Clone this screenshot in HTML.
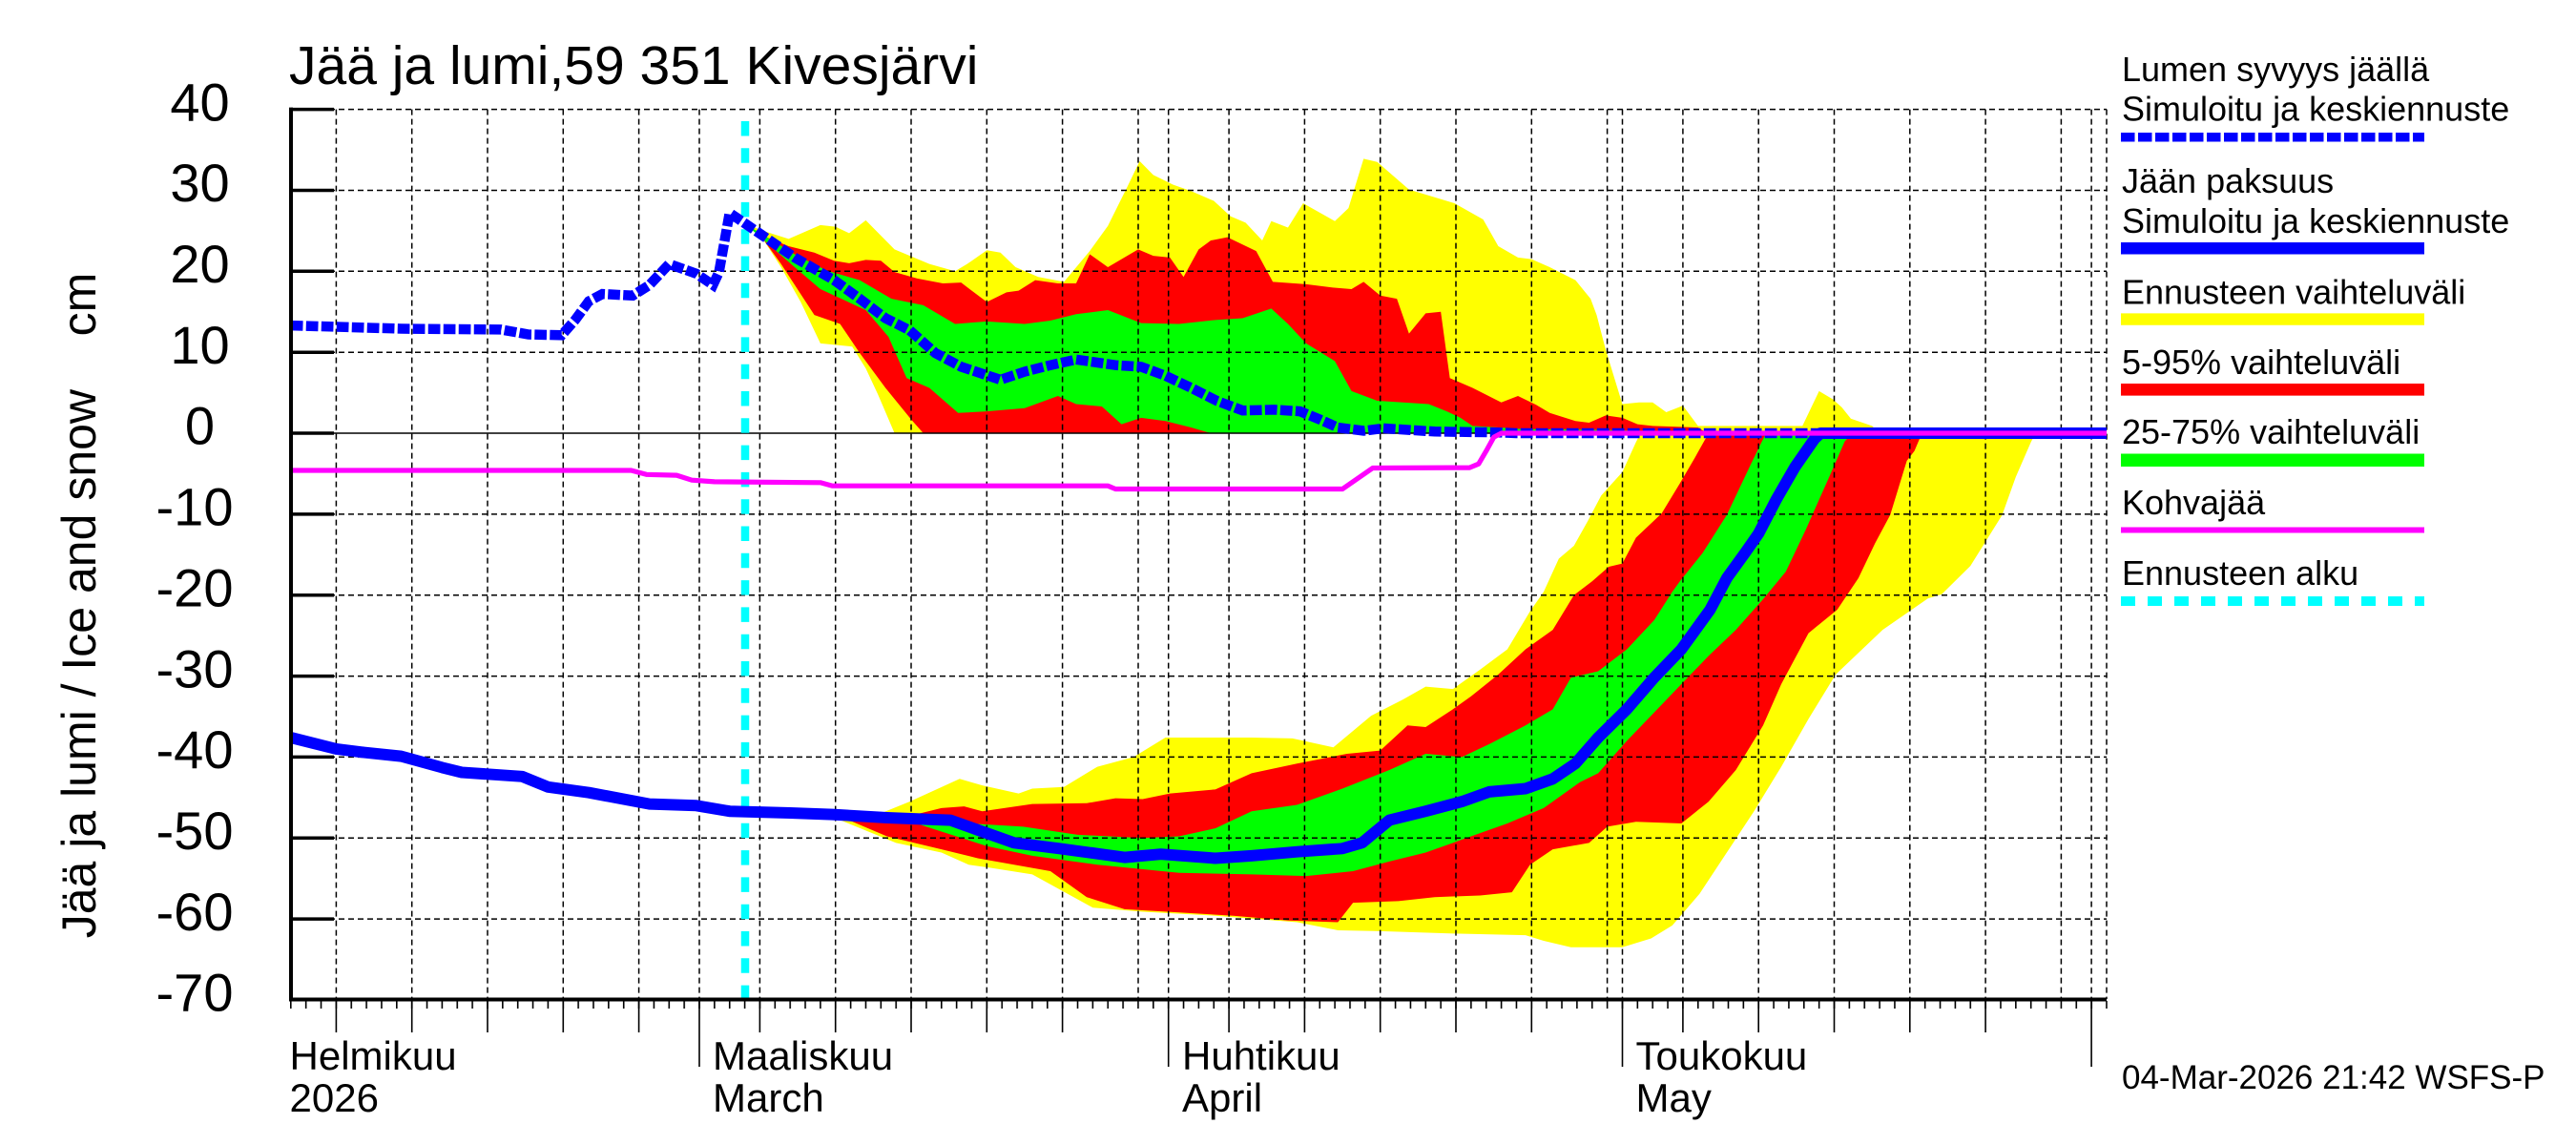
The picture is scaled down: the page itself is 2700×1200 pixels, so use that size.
<!DOCTYPE html>
<html>
<head>
<meta charset="utf-8">
<style>
html,body{margin:0;padding:0;background:#fff;overflow:hidden;}
svg{display:block;}
text{font-family:"Liberation Sans",Arial,sans-serif;fill:#000;}
</style>
</head>
<body>
<svg width="2700" height="1200" viewBox="0 0 2700 1200" xmlns="http://www.w3.org/2000/svg">
<defs>
<pattern id="mt" x="304" y="1049" width="15.86" height="9" patternUnits="userSpaceOnUse">
<rect x="0" y="0" width="1.6" height="9" fill="#000"/>
</pattern>
</defs>
<rect x="0" y="0" width="2700" height="1200" fill="#fff"/>

<!-- bands (data coords: x=day from Mar 1, y=cm) -->
<g transform="matrix(15.86 0 0 -8.485 733 454)">
<polygon fill="#ffff00" points="3,25.9 4.2,25 5.9,24 8,25.7 9,25.5 9.9,24.7 11,26.3 12.9,22.7 15.2,20.9 16.9,20 17.7,20.9 19,22.6 19.9,22.3 20.9,20.5 22.4,19.3 24.1,18.7 25.8,22.5 27,25.6 28.3,30.5 29.1,33.6 30,31.9 31.3,30.7 32.5,29.9 34,28.7 35.1,26.8 36.1,26 37.2,23.8 37.8,26.2 38.9,25.4 39.9,28.4 42,26.2 42.9,27.8 43.9,33.9 44.8,33.5 46.9,30.1 49.9,28.4 51.8,26.4 52.8,23.1 54.1,21.7 55,21.5 56.2,20.5 57.9,18.9 58.9,16.6 59.3,14.6 59.9,10.3 61,3.6 62.1,3.8 63,3.8 63.9,2.6 65,3.4 66,0.9 72.9,0.9 74,5.2 74.9,4.2 75.5,3.2 76.1,1.8 77.5,0.9 78,0 12.9,0 11.8,4.8 11,8 10.1,10.7 8,11.1 6.7,16.2 5.4,20.5 4.2,24"/>
<polygon fill="#ffff00" points="3,-46.8 8.8,-47 11.8,-47.1 13.9,-45.5 17.2,-42.7 18.7,-43.5 21.1,-44.5 22,-43.9 24.1,-43.7 26.3,-41.2 28.7,-40 30.8,-37.6 36.5,-37.6 39.2,-37.7 41.9,-38.8 44.4,-34.9 46.5,-32.9 48,-31.3 49.8,-31.6 51.6,-29.2 53.4,-26.7 54.9,-22 55.8,-19.6 56.8,-15.5 57.8,-13.9 58.7,-10.9 59.6,-7.7 61,-4.8 61.9,-1.1 62.2,0 88.3,0 88,-1.1 87,-5.4 86.1,-10.1 85.2,-12.8 84,-16.4 82.1,-19.9 81.2,-20.4 78.2,-24.3 75.1,-29.8 73.3,-35.3 71.5,-41.2 69.7,-46.7 67.9,-51.8 66.1,-56.9 64.3,-60.8 62.9,-62.4 61,-63.5 57.6,-63.5 55.8,-62.7 54.6,-62 49.8,-61.8 45,-61.5 42.2,-61.4 39.5,-60.4 34.1,-59.6 29.3,-59.1 26,-58.6 22,-54.5 19.3,-53.7 17.8,-53.3 16,-51.8 13,-50.6 8.8,-47.4"/>
<polygon fill="#ff0000" points="3,25.9 4.2,24.4 5.9,23.1 7.6,22.3 8.9,21.3 9.9,21 11,21.4 12,21.3 12.9,19.9 14.4,19.1 16.1,18.5 17.3,18.6 19,16.2 20.3,17.4 21.1,17.6 22.2,18.9 23.7,18.5 24.9,18.5 25.8,22.1 27,20.5 29,22.7 30,21.9 31.1,21.7 32,19.3 33,22.7 33.8,23.8 34.9,24.2 36.8,22.5 37.9,18.7 40.1,18.4 41.8,18 43.1,17.8 43.9,18.7 45,17 46.1,16.6 46.9,12.3 48,14.8 49,15 49.6,6.8 51.1,5.6 53,3.8 54.1,4.6 55.3,3.5 56.2,2.5 57.9,1.5 58.8,1.3 59.9,2.2 61,1.9 62,1.1 63,0.9 66,0.7 66.6,0 14.8,0 14,1.7 12.3,5.6 10.6,9.9 9.3,13.5 7.6,14.6 5.4,20.9 4.2,24"/>
<polygon fill="#ff0000" points="3,-46.8 11,-47.2 14.5,-47 16,-46.3 17.5,-46.1 18.7,-46.7 22,-45.8 25.6,-45.7 27.5,-45.1 29.3,-45.2 31.1,-44.5 34.1,-44 36.5,-42 39.5,-40.8 42.8,-39.6 45,-39.2 46.8,-36.1 48,-36.3 49.8,-34.1 51,-32.5 52.8,-29.8 54.6,-26.7 56.4,-24.3 57.8,-20 59,-18.3 60.1,-16.5 61,-16.1 61.9,-12.9 63.6,-9.9 64.8,-6.2 65.8,-3 66.7,0 80.8,0 80.3,-2.2 79.8,-3.4 78.7,-10.1 77.7,-13.6 76.6,-17.9 75.2,-21.8 73.3,-24.7 71.5,-31 70.3,-36.1 68.5,-41.6 66.7,-45.5 64.9,-48.2 61.9,-48 60,-48.6 58.8,-50.6 56.4,-51.4 54.9,-53.3 53.7,-56.7 51.6,-57.1 48.6,-57.3 46.2,-57.8 43.2,-58 42.2,-60.4 38.9,-60.2 35.3,-59.6 31.7,-59.2 28.1,-58.8 25.6,-57.3 23.2,-54.1 20.8,-53.3 18.4,-52.5 16,-51.4 12.4,-49.8 9.5,-47.5"/>
<polygon fill="#00ff00" points="3,25.9 6.3,22.1 8.4,20.1 10.6,18.9 12.7,16.6 14.8,15.8 16.9,13.5 19,13.8 21.5,13.5 23.2,13.9 24.9,14.7 27,15.2 29.2,13.6 31.7,13.5 34.2,14 35.9,14.2 37.8,15.4 38.9,13.5 40.1,11.1 42,8.9 43.1,5.2 44.8,4 46.5,3.8 48.2,3.6 49.4,2.7 50.3,1.9 51.1,0.9 52.8,0.7 54.5,0.5 60,0.4 62,0.3 62.5,0 33.8,0 32.5,0.7 30.8,1.5 29.2,1.9 27.9,1.1 26.6,3.3 24.9,3.6 23.7,4.6 21.5,3.1 19,2.7 17.1,2.5 15.2,5.6 13.7,6.8 12.5,11.9 11,15.2 8,17.8 6.3,20.5"/>
<polygon fill="#00ff00" points="3,-46.8 14,-47.6 17.8,-48.2 21.4,-48.6 25,-49.6 29.3,-50 31.7,-49.8 34.1,-48.8 36.5,-46.7 39.5,-45.9 42.5,-43.9 45.6,-41.6 48,-39.6 50.4,-40 52.2,-38.4 54.6,-36.1 56.4,-34.1 57.6,-30.2 59.4,-29.4 61.3,-26.7 63.1,-23.1 64.3,-19.6 64.8,-18.3 66.3,-14.8 67.9,-10.1 69.5,-3.8 70.2,-1.1 70.5,0 76.2,0 75.7,-1 74.6,-5.7 73.1,-12 71.8,-17.1 70.3,-20.5 68.5,-24.3 66.7,-27.5 64.9,-31 63.1,-34.5 61.3,-38 59.4,-42 58.2,-43.1 55.8,-46.3 53.4,-48.2 51,-49.8 48,-51.8 45.6,-52.9 43.2,-54.1 40.1,-54.7 36.5,-54.5 31.7,-54.3 26.3,-53.3 22,-52.2 19,-51 16,-49.2 14,-48"/>
</g>

<!-- grid -->
<path fill="none" stroke="#000" stroke-width="1.5" stroke-dasharray="6 4" d="M352.4 114.6V1047M431.7 114.6V1047M511 114.6V1047M590.3 114.6V1047M669.6 114.6V1047M733 114.6V1047M796.4 114.6V1047M875.7 114.6V1047M955 114.6V1047M1034.3 114.6V1047M1113.6 114.6V1047M1193 114.6V1047M1224.7 114.6V1047M1288.1 114.6V1047M1367.4 114.6V1047M1446.7 114.6V1047M1526 114.6V1047M1605.3 114.6V1047M1684.6 114.6V1047M1700.5 114.6V1047M1763.9 114.6V1047M1843.2 114.6V1047M1922.5 114.6V1047M2001.8 114.6V1047M2081.1 114.6V1047M2160.4 114.6V1047M2192.1 114.6V1047M2208 114.6V1047"/>
<path fill="none" stroke="#000" stroke-width="1.5" stroke-dasharray="6 4" d="M305 114.6H2208M305 199.5H2208M305 284.3H2208M305 369.2H2208M305 538.9H2208M305 623.7H2208M305 708.6H2208M305 793.4H2208M305 878.3H2208M305 963.1H2208"/>
<line x1="305" y1="454" x2="2208" y2="454" stroke="#000" stroke-width="1.6"/>

<!-- forecast start -->
<line x1="781" y1="127" x2="781" y2="1046" stroke="#00ffff" stroke-width="8.5" stroke-dasharray="15.5 12.8"/>

<!-- ice thickness -->
<polyline fill="none" stroke="#0000ff" stroke-width="12" stroke-linejoin="round" points="304.8,773 352.4,784.9 379.3,788.3 420.6,792.6 463.4,804.4 484,809.5 547.4,813.8 574.4,824.8 617.2,830.7 680.7,842.6 729.8,844.3 764.7,850.2 828.2,852 872.6,853.6 929.7,857 996.3,859.6 1024.8,869.8 1062.9,883.3 1110.5,889.3 1178.7,898.6 1216.7,895.2 1273.8,899.5 1311.9,896.9 1359.5,892.7 1407.1,889.3 1427.7,883.3 1456.2,859.6 1494.3,850.2 1532.3,840.1 1561,829.9 1599,826.5 1627.5,816.3 1651.3,800.2 1675.1,773 1705.2,743.3 1733.8,710.2 1762.3,680.5 1792.4,639 1809.9,605.9 1828.9,579.6 1843.2,559.2 1862.2,522.7 1881.3,489.6 1901.9,459.9 1908.2,454 2208,454"/>

<!-- snow depth -->
<polyline fill="none" stroke="#0000ff" stroke-width="10.5" stroke-dasharray="12.7 3.3" points="304.8,341.1 420.6,344.5 525.2,345.4 553.8,350.5 588.7,351.3 602.9,335.2 617.2,315.7 631.5,308.1 663.2,309.8 680.7,298.7 701.3,276.7 729.8,286.8 747.3,298.7 753.6,285.1 764.7,223.2 771.1,227.5 799.6,247 832.9,269.9 874.2,293.6 901.1,313.1 928.1,333.5 953.5,346.2 980.4,370 1007.4,384.4 1048.6,398 1074,389.5 1101,382.7 1127.9,376.8 1169.2,382.7 1196.1,384.4 1221.5,393.8 1248.5,406.5 1275.4,420.1 1302.4,430.2 1335.7,429.4 1362.6,431.1 1383.3,439.6 1402.3,448.1 1429.3,451.5 1449.9,448.9 1503.8,452.3 1570.4,453.2 1589.4,454 2208,454"/>

<!-- kohvajää -->
<polyline fill="none" stroke="#ff00ff" stroke-width="5.2" stroke-linejoin="round" points="304.8,493 661.6,493 677.5,497.3 709.2,498.1 725.1,503.2 748.9,504.9 859.9,505.8 872.6,509.2 1161.2,509.2 1169.2,512.5 1407.1,512.5 1438.8,490.5 1540.3,490.1 1549.8,486.2 1557.7,472.7 1565.7,458.2 1573.6,454 2208,454"/>

<!-- axes -->
<line x1="305" y1="112.6" x2="305" y2="1049.5" stroke="#000" stroke-width="4"/>
<line x1="303" y1="1047.5" x2="2208" y2="1047.5" stroke="#000" stroke-width="4"/>
<path fill="none" stroke="#000" stroke-width="3.5" d="M305 114.6H350M305 199.5H350M305 284.3H350M305 369.2H350M305 454H350M305 538.9H350M305 623.7H350M305 708.6H350M305 793.4H350M305 878.3H350M305 963.1H350"/>
<rect x="303" y="1049" width="1906" height="8" fill="url(#mt)"/>
<path fill="none" stroke="#000" stroke-width="1.6" d="M352.4 1048V1082M431.7 1048V1082M511 1048V1082M590.3 1048V1082M669.6 1048V1082M796.4 1048V1082M875.7 1048V1082M955 1048V1082M1034.3 1048V1082M1113.6 1048V1082M1288.1 1048V1082M1367.4 1048V1082M1446.7 1048V1082M1526 1048V1082M1605.3 1048V1082M1763.9 1048V1082M1843.2 1048V1082M1922.5 1048V1082M2001.8 1048V1082M2081.1 1048V1082"/>
<path fill="none" stroke="#000" stroke-width="1.6" d="M733 1048V1118M1224.7 1048V1118M1700.5 1048V1118M2192.1 1048V1118"/>

<!-- y tick labels -->
<g font-size="56" text-anchor="middle">
<text x="209.5" y="126.3">40</text>
<text x="209.5" y="211.2">30</text>
<text x="209.5" y="296">20</text>
<text x="209.5" y="380.9">10</text>
<text x="209.5" y="465.7">0</text>
<text x="204" y="550.6">-10</text>
<text x="204" y="635.4">-20</text>
<text x="204" y="720.3">-30</text>
<text x="204" y="805.1">-40</text>
<text x="204" y="890">-50</text>
<text x="204" y="974.8">-60</text>
<text x="204" y="1059.7">-70</text>
</g>

<!-- y axis title -->
<text transform="translate(100,634.5) rotate(-90)" font-size="50" text-anchor="middle" xml:space="preserve" style="white-space:pre">Jää ja lumi / Ice and snow    cm</text>

<!-- title -->
<text x="303" y="88" font-size="57">Jää ja lumi,59 351 Kivesjärvi</text>

<!-- month labels -->
<g font-size="42">
<text x="303.5" y="1121">Helmikuu</text>
<text x="303.5" y="1165">2026</text>
<text x="747" y="1121">Maaliskuu</text>
<text x="747" y="1165">March</text>
<text x="1239" y="1121">Huhtikuu</text>
<text x="1239" y="1165">April</text>
<text x="1714.5" y="1121">Toukokuu</text>
<text x="1714.5" y="1165">May</text>
</g>

<!-- legend -->
<g font-size="36">
<text x="2224" y="85">Lumen syvyys jäällä</text>
<text x="2224" y="126.5">Simuloitu ja keskiennuste</text>
<text x="2224" y="202">Jään paksuus</text>
<text x="2224" y="244">Simuloitu ja keskiennuste</text>
<text x="2224" y="318.4">Ennusteen vaihteluväli</text>
<text x="2224" y="392">5-95% vaihteluväli</text>
<text x="2224" y="465">25-75% vaihteluväli</text>
<text x="2224" y="539">Kohvajää</text>
<text x="2224" y="613">Ennusteen alku</text>
</g>
<line x1="2223" y1="143.7" x2="2541" y2="143.7" stroke="#0000ff" stroke-width="9.5" stroke-dasharray="14.5 3.5"/>
<line x1="2223" y1="260.3" x2="2541" y2="260.3" stroke="#0000ff" stroke-width="12.5"/>
<line x1="2223" y1="334.6" x2="2541" y2="334.6" stroke="#ffff00" stroke-width="12.4"/>
<line x1="2223" y1="408.3" x2="2541" y2="408.3" stroke="#ff0000" stroke-width="12.6"/>
<line x1="2223" y1="482.2" x2="2541" y2="482.2" stroke="#00ff00" stroke-width="13.5"/>
<line x1="2223" y1="555.5" x2="2541" y2="555.5" stroke="#ff00ff" stroke-width="6"/>
<line x1="2223" y1="630" x2="2541" y2="630" stroke="#00ffff" stroke-width="10" stroke-dasharray="15 13"/>

<!-- timestamp -->
<text x="2224" y="1141" font-size="35">04-Mar-2026 21:42 WSFS-P</text>
</svg>
</body>
</html>
